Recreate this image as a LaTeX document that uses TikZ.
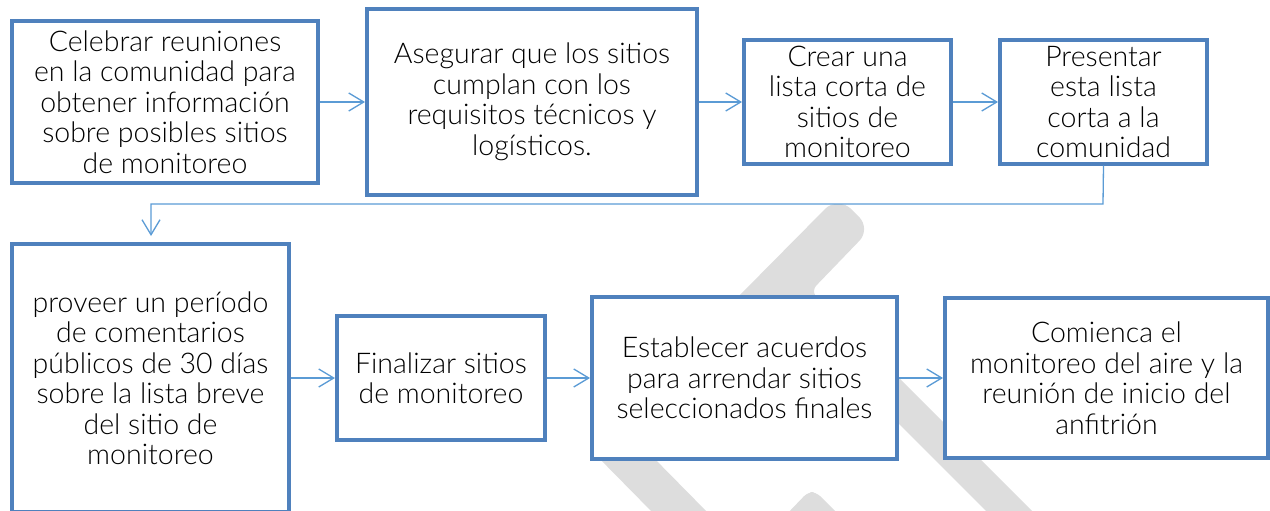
\documentclass[tikz,border=0pt]{standalone}
\usepackage{fontspec}
\setmainfont{Lato Light}
\usetikzlibrary{arrows.meta}
\definecolor{boxblue}{RGB}{79,129,189}
\definecolor{linkblue}{RGB}{91,155,213}
\definecolor{wmgray}{RGB}{221,221,221}
\begin{document}
\begin{tikzpicture}[x=1pt,y=-1pt,
  stepbox/.style={draw=boxblue, line width=4pt, fill=white, inner sep=0pt,
    align=center, font=\fontsize{28.5}{30.5}\selectfont, text=black},
  link/.style={draw=linkblue, line width=1.3pt, -{Straight Barb[length=15pt,width=18pt,line width=1.3pt]}},
  wm/.style={fill=wmgray, draw=none}]
\useasboundingbox (0,0) rectangle (1270,511);
% watermark fragments
\fill[wm, rounded corners=6pt] (735,300) -- (830,204) -- (846,204) -- (864,222) -- (864,236) -- (812,290) -- (818,300) -- cycle;
\fill[wm] (591,450) -- (646,450) -- (711,516) -- (656,516) -- cycle;
\fill[wm, rounded corners=6pt] (785,516) -- (808,492) -- (816,492) -- (840,516) -- cycle;
\fill[wm] (845,370) -- (891,370) -- (1037,516) -- (991,516) -- cycle;
% boxes
\node[stepbox, minimum width=306pt, minimum height=162pt] (b1) at (165,102) {Celebrar reuniones\\en la comunidad para\\obtener información\\sobre posibles sitios\\de monitoreo};
\node[stepbox, minimum width=330pt, minimum height=186pt] (b2) at (532,102) {Asegurar que los sitios\\cumplan con los\\requisitos técnicos y\\logísticos.};
\node[stepbox, minimum width=207pt, minimum height=123pt] (b3) at (847.5,102) {Crear una\\lista corta de\\sitios de\\monitoreo};
\node[stepbox, minimum width=207pt, minimum height=123pt] (b4) at (1103.5,102) {Presentar\\esta lista\\corta a la\\comunidad};
\node[stepbox, minimum width=277pt, minimum height=268pt] (b5) at (150.5,378) {proveer un período\\de comentarios\\públicos de 30 días\\sobre la lista breve\\del sitio de\\monitoreo};
\node[stepbox, minimum width=208pt, minimum height=124pt] (b6) at (441,378) {Finalizar sitios\\de monitoreo};
\node[stepbox, minimum width=305pt, minimum height=162pt] (b7) at (744.5,378) {Establecer acuerdos\\para arrendar sitios\\seleccionados finales};
\node[stepbox, minimum width=323pt, minimum height=160pt] (b8) at (1106.5,378) {Comienca el\\monitoreo del aire y la\\reunión de inicio del\\anfitrión};
% connectors
\coordinate (c1) at (1103,204);
\coordinate (c2) at (151,204);
\draw[link] (b1.east) -- (b2.west);
\draw[link] (b2.east |- b3.west) -- (b3.west);
\draw[link] (b3.east) -- (b4.west);
\draw[link, shorten >=6pt] (b4.south) -- (c1) -- (c2) -- (c2 |- b5.north);
\draw[link] (b5.east |- b6.west) -- (b6.west);
\draw[link] (b6.east) -- (b7.west);
\draw[link] (b7.east) -- (b8.west);
\end{tikzpicture}
\end{document}
